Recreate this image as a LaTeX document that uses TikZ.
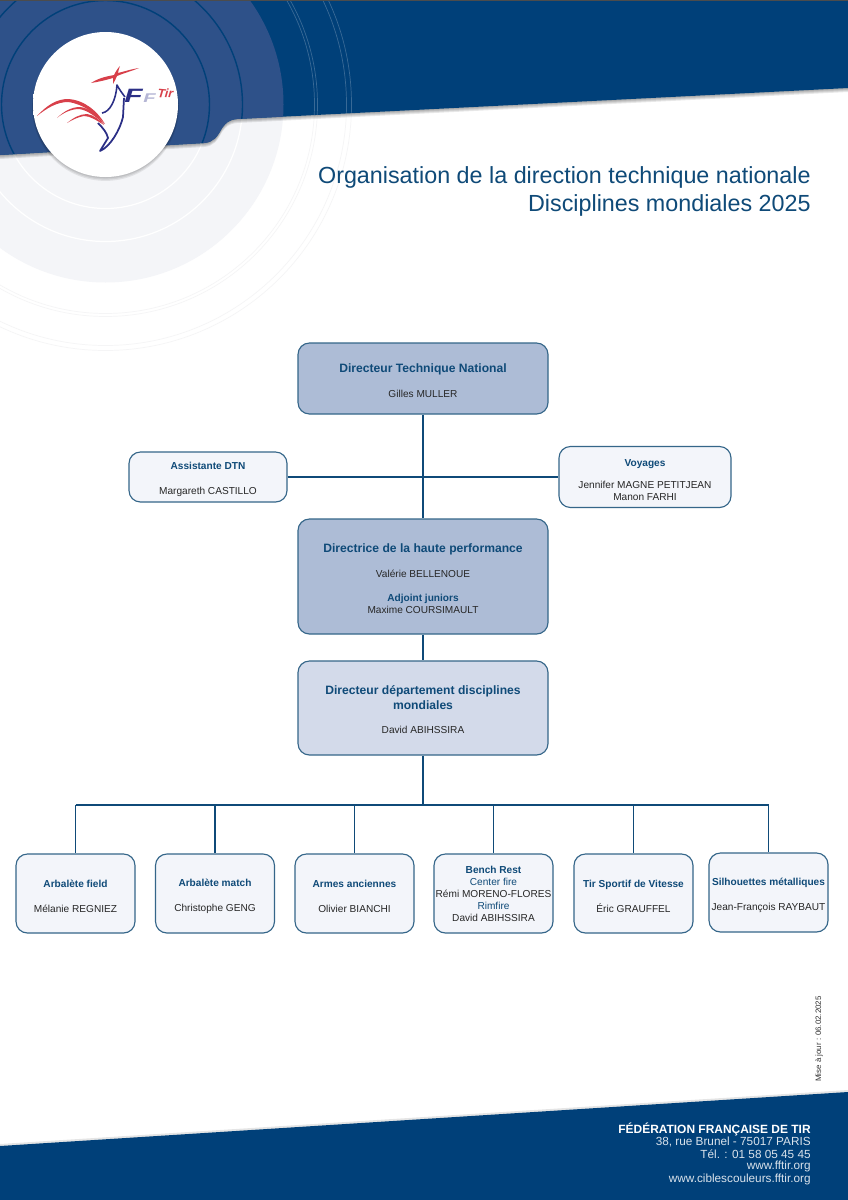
\documentclass[tikz,border=0pt]{standalone}
\usepackage{fontspec}
\setmainfont{Liberation Sans}
\usetikzlibrary{positioning}
\definecolor{bandblue}{HTML}{004079}
\definecolor{diskblue}{HTML}{2E5189}
\definecolor{palegrey}{HTML}{F4F5F8}
\definecolor{ringgrey}{HTML}{F5F5F6}
\definecolor{headblue}{HTML}{0F4A78}
\definecolor{edgeblue}{HTML}{356689}
\definecolor{fillA}{HTML}{ADBCD6}
\definecolor{fillB}{HTML}{D3DAEA}
\definecolor{fillC}{HTML}{F3F5FA}
\definecolor{logored}{HTML}{D8404A}
\definecolor{logoblue}{HTML}{2B2F86}
\pgfdeclareradialshading{logoball}{\pgfpoint{0bp}{0bp}}{color(0bp)=(white); color(41bp)=(white); color(50bp)=(black!13)}
\newcommand{\toppad}{\rule{0pt}{7.4pt}}
\newcommand{\headA}[1]{{\fontsize{6.9}{8}\selectfont\bfseries\color{headblue}#1}}
\newcommand{\headB}[1]{{\bfseries\color{headblue}#1}}
\newcommand{\headC}[1]{{\color{headblue}#1}}
\newcommand{\nameA}[1]{{\color{black!85}#1}}
\newcommand{\bandpath}{(0,0) -- (848,0) -- (848,88) -- (237,119) .. controls (228,120) and (226,123) .. (222,128) .. controls (217,137) and (214,142) .. (204,143) -- (0,155) -- cycle}
\tikzset{
	orgbox/.style={draw=edgeblue, line width=0.65pt, rounded corners=6.5pt, align=center, inner sep=0pt, font=\fontsize{5.75}{6.8}\selectfont},
	bigbox/.style={orgbox, minimum width=250*0.02cm},
	smallbox/.style={orgbox, fill=fillC, minimum width=119*0.02cm, minimum height=79*0.02cm},
	orgline/.style={draw=headblue, line width=0.6pt},
	footline/.style={text=white!85!bandblue, anchor=east, inner sep=0pt, font=\fontsize{6.7}{8}\selectfont},
	logotext/.style={inner sep=0pt, anchor=base west}
}
\begin{document}
\begin{tikzpicture}[x=0.02cm, y=-0.02cm]
	\useasboundingbox (0,0) rectangle (848,1200);
	\fill[white] (0,0) rectangle (848,1200);

	\fill[palegrey] (105.5,104.5) circle (178);
	\foreach \r in {104,137} \draw[white, line width=0.7pt] (105.5,104.5) circle (\r);
	\foreach \r in {209,212,241,246} \draw[ringgrey, line width=0.4pt] (105.5,104.5) circle (\r);

	\foreach \s in {1,2,3,4} \fill[black, opacity=0.09, shift={(0,\s)}] \bandpath;
	\fill[bandblue] \bandpath;
	\begin{scope}
		\clip \bandpath;
		\fill[diskblue] (105.5,104.5) circle (178);
		\foreach \r in {104,137} \draw[bandblue, line width=0.8pt] (105.5,104.5) circle (\r);
		\foreach \r in {209,212,241,246} \draw[white, opacity=0.22, line width=0.4pt] (105.5,104.5) circle (\r);
		\fill[black!70] (0,0) rectangle (848,1);
	\end{scope}

	\foreach \s in {1,2,3} \fill[black, opacity=0.08] (105.5,104.5+\s) circle (72.5+\s*0.3);
	\shade[shading=logoball] (105.5,104.5) circle (72.5);
	\fill[logored] (37,116) .. controls (47,105) and (57,99) .. (68,99) .. controls (85,100) and (98,112) .. (105,124) .. controls (95,114) and (84,104) .. (68,102) .. controls (57,102) and (47,108) .. cycle;
	\fill[logored] (57,118) .. controls (64,111) and (72,107) .. (80,107) .. controls (90,108) and (98,116) .. (104,124) .. controls (95,116) and (87,110) .. (79,109) .. controls (71,109) and (63,113) .. cycle;
	\fill[logored] (67,123) .. controls (73,118) and (80,114) .. (87,114) .. controls (94,115) and (100,120) .. (104,125) .. controls (96,120) and (90,116) .. (84,116) .. controls (78,117) and (72,120) .. cycle;
	\fill[logored] (91,83) .. controls (100,77) and (110,76) .. (114,75) .. controls (116,71) and (118,68) .. (120,66) .. controls (119,69) and (118,71) .. (118,73) .. controls (126,71) and (132,69) .. (139,68) .. controls (132,71) and (124,73) .. (117,76) .. controls (116,79) and (114,82) .. (113,84) .. controls (113,81) and (113,79) .. (113,78) .. controls (106,80) and (98,82) .. cycle;
	\draw[logoblue, line width=0.9pt, line join=round] (102,113) .. controls (110,112) and (116,100) .. (117,85) .. controls (119,89) and (122,93) .. (125,97);
	\draw[logoblue, line width=1pt, line join=round] (98,123) .. controls (103,128) and (107,133) .. (108,138) -- (100,151) .. controls (110,147) and (120,130) .. (123,117) -- (124,98);
	\node[logotext, text=logoblue, font=\fontsize{11}{11}\selectfont\bfseries\itshape] (LogoF) at (124,102) {\scalebox{1.55}[1]{F}};
	\node[logotext, text=logoblue!35, font=\fontsize{7.2}{7.2}\selectfont\bfseries\itshape] (LogoG) at (143,102) {\scalebox{1.6}[1]{F}};
	\node[logotext, text=logored, rotate=-5, font=\fontsize{7}{7}\selectfont\bfseries\itshape] (LogoT) at (157,97) {Tir};

	\node[inner sep=0pt, anchor=east, align=right, text=headblue, font=\fontsize{13.27}{16.1}\selectfont] (Title) at (811,191.5) {Organisation de la direction technique nationale\\Disciplines mondiales 2025};

	\node[bigbox, fill=fillA, minimum height=71*0.02cm] (DTN) at (423,378.5) {\toppad\headA{Directeur Technique National}\\[7.4pt]\nameA{Gilles MULLER}};
	\node[orgbox, fill=fillC, minimum width=158*0.02cm, minimum height=50*0.02cm] (Assist) at (208,477) {\toppad\headB{Assistante DTN}\\[7.4pt]\nameA{Margareth CASTILLO}};
	\node[orgbox, fill=fillC, minimum width=172*0.02cm, minimum height=61*0.02cm] (Voyages) at (645,477) {\toppad\headB{Voyages}\\[6.2pt]\nameA{Jennifer MAGNE PETITJEAN}\\\nameA{Manon FARHI}};
	\node[bigbox, fill=fillA, minimum height=115*0.02cm] (DHP) at (423,576.5) {\toppad\headA{Directrice de la haute performance}\\[7.4pt]\nameA{Valérie BELLENOUE}\\[6.8pt]\headB{Adjoint juniors}\\\nameA{Maxime COURSIMAULT}};
	\node[bigbox, fill=fillB, minimum height=94*0.02cm] (DDM) at (423,708) {\toppad\headA{Directeur département disciplines}\\[1.2pt]\headA{mondiales}\\[7.4pt]\nameA{David ABIHSSIRA}};

	\node[smallbox] (Field) at (75.5,893.5) {\toppad\headB{Arbalète field}\\[7.4pt]\nameA{Mélanie REGNIEZ}};
	\node[smallbox] (Match) at (215,893.5) {\toppad\headB{Arbalète match}\\[7.4pt]\nameA{Christophe GENG}};
	\node[smallbox] (Armes) at (354.5,893.5) {\toppad\headB{Armes anciennes}\\[7.4pt]\nameA{Olivier BIANCHI}};
	\node[smallbox] (Bench) at (493.5,893.5) {\headB{Bench Rest}\\\headC{Center fire}\\\nameA{Rémi MORENO-FLORES}\\\headC{Rimfire}\\\nameA{David ABIHSSIRA}};
	\node[smallbox] (Vitesse) at (633.5,893.5) {\toppad\headB{Tir Sportif de Vitesse}\\[7.4pt]\nameA{Éric GRAUFFEL}};
	\node[smallbox] (Silh) at (768.5,892.5) {\toppad\headB{Silhouettes métalliques}\\[7.4pt]\nameA{Jean-François RAYBAUT}};

	\coordinate (BusMid) at (423,805);
	\coordinate (BusA) at (75.5,805);
	\coordinate (BusB) at (215,805);
	\coordinate (BusC) at (354.5,805);
	\coordinate (BusD) at (493.5,805);
	\coordinate (BusE) at (633.5,805);
	\coordinate (BusF) at (768.5,805);

	\draw[orgline] (DTN) -- (DHP);
	\draw[orgline] (Assist) -- (Voyages);
	\draw[orgline] (DHP) -- (DDM);
	\draw[orgline] (DDM) -- (BusMid);
	\draw[orgline] (BusA) -- (BusF);
	\draw[orgline] (BusA) -- (Field);
	\draw[orgline] (BusB) -- (Match);
	\draw[orgline] (BusC) -- (Armes);
	\draw[orgline] (BusD) -- (Bench);
	\draw[orgline] (BusE) -- (Vitesse);
	\draw[orgline] (BusF) -- (Silh);

	\node[inner sep=0pt, rotate=90, font=\fontsize{4.5}{5}\selectfont, text=black!80] (Update) at (819,1039) {Mise à jour : 06.02.2025};

	\fill[black, opacity=0.1] (0,1144) -- (848,1090) -- (848,1093) -- (0,1147) -- cycle;
	\fill[bandblue] (0,1146) -- (848,1092) -- (848,1200) -- (0,1200) -- cycle;

	\node[footline, text=white, font=\fontsize{6.8}{8}\selectfont\bfseries] (FootA) at (811,1129.5) {FÉDÉRATION FRANÇAISE DE TIR};
	\node[footline] (FootB) at (811,1142) {38, rue Brunel - 75017 PARIS};
	\node[footline] (FootC) at (811,1154) {Tél. : 01 58 05 45 45};
	\node[footline] (FootD) at (811,1166.5) {www.fftir.org};
	\node[footline] (FootE) at (811,1179) {www.ciblescouleurs.fftir.org};
\end{tikzpicture}
\end{document}
